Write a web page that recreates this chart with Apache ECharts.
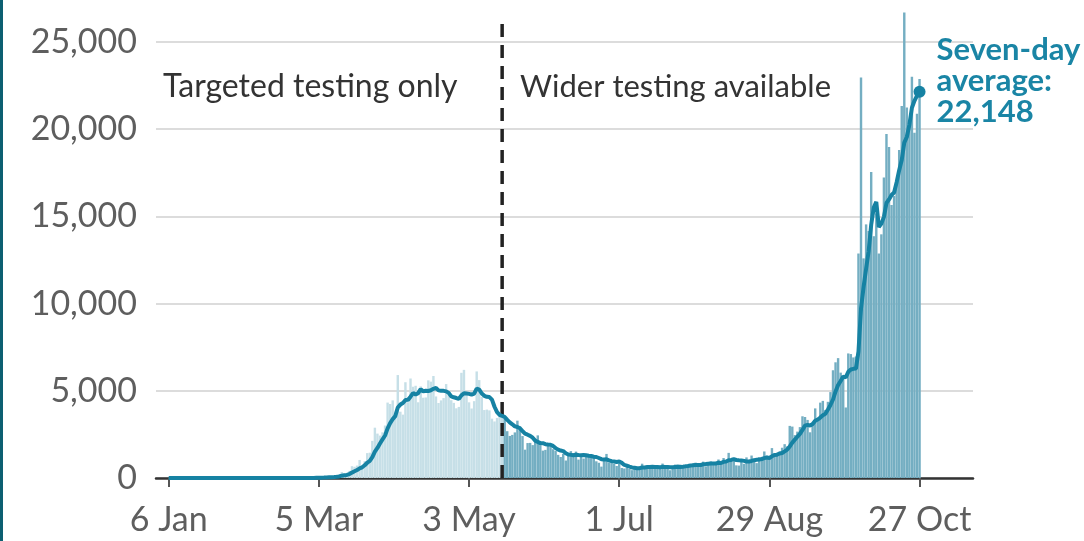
<!DOCTYPE html>
<html>
<head>
<meta charset="utf-8">
<script src="https://cdn.jsdelivr.net/npm/echarts@6/dist/echarts.min.js"></script>
<style>
  html, body { margin: 0; padding: 0; background: #fff; }
  #chart { position: absolute; left: 0; top: 0; width: 1084px; height: 541px; }
  #edge { position: absolute; left: 0; top: 0; width: 3px; height: 541px; background: #0c5f71; }
</style>
</head>
<body>
<div id="chart"></div>
<div id="edge"></div>
<script>
// daily reported cases, 6 Jan - 27 Oct 2020
const casesJan = [0,0,0,0,0,0,0,0,0,0,0,0,0,0,0,0,0,0,0,0,0,0,0,0,0,2]
const casesFeb = [0,0,0,0,0,1,0,0,0,4,1,0,0,0,0,0,0,0,0,0,0,0,4,0,0,0,2,6,3]
const casesMar = [13,4,11,34,30,48,43,67,48,52,83,134,208,342,251,152,407,676,643,714,1035,665,967,1427,1452,2129,2885,2546,2433,2619,3009]
const casesApr = [4324,4244,4450,3735,5903,3802,3634,5491,4344,5706,5233,5288,4342,5252,4603,4617,5599,5525,5850,4676,4301,4451,4583,5386,4913,4463,4309,3996,4076,6032]
const casesMay = [6201,4806,4339,3985,4406,6111,5614,4649,3896,3923,3877,3403,3242,3446,3560,3450,3534,2684,2412,2472,2615,3287,2959,2405,1625,2004,2013,1887,2095,2445,1936]
const casesJun = [1570,1613,1871,1805,1650,1557,1326,1205,1387,1003,1266,1541,1425,1514,1056,1279,1115,1218,1346,1295,1221,958,874,653,1118,1380,890,901,815,689]
const casesJul = [829,576,544,624,516,450,581,630,600,820,650,650,530,598,538,642,687,827,580,560,445,560,769,768,767,685,685,581,763,846,880]
const casesAug = [744,742,938,670,892,950,871,758,1062,816,1148,1009,1441,1012,1077,726,713,1089,812,1182,1033,1288,1041,853,1184,1048,1522,1276,1108,1715,1406]
const casesSep = [1295,1508,1735,1940,1813,2988,2948,2460,2659,2919,3539,3497,3330,2621,3105,3991,3395,4322,4422,3899,4368,4926,6178,6634,6874,6042,5693,4044,7143,7108]
const casesOct = [6914,6968,12872,22961,12594,14542,14162,17540,13864,15166,12872,13972,17234,19724,18980,15650,16171,16982,18804,21331,26688,21242,20530,23012,19790,20890,22885]

// seven-day average, same days
const avgJan = [0,0,0,0,0,0,0,0,0,0,0,0,0,0,0,0,0,0,0,0,0,0,0,0,0,0]
const avgFeb = [0,0,0,0,0,0,0,0,0,1,1,1,1,1,1,1,0,0,0,0,0,0,1,1,1,1,1,2,2]
const avgMar = [3,4,6,10,14,20,26,34,40,46,53,68,91,133,160,175,225,310,383,455,554,613,730,875,986,1198,1509,1724,1977,2213,2439]
const avgApr = [2849,3151,3375,3545,4041,4210,4299,4466,4480,4659,4873,4785,4863,5094,4967,5006,4991,5032,5113,5160,5024,5003,4998,4967,4880,4682,4629,4586,4532,4739]
const avgMay = [4856,4840,4823,4776,4835,5126,5066,4844,4714,4655,4639,4496,4086,3777,3621,3557,3502,3331,3190,3080,2961,2922,2852,2691,2539,2481,2415,2311,2141,2068,2001]
const avgJun = [1993,1937,1917,1905,1841,1715,1627,1575,1543,1419,1342,1326,1308,1334,1313,1298,1314,1307,1279,1260,1219,1205,1147,1081,1066,1071,1013,968,947,921]
const avgJul = [946,869,749,711,656,604,589,560,564,603,607,626,637,640,627,633,614,639,629,633,611,614,633,644,636,651,668,688,717,728,744]
const avgAug = [741,749,785,798,816,831,830,832,877,860,928,945,1015,1035,1081,1033,1018,1010,981,944,947,978,1023,1043,1056,1090,1138,1173,1147,1244,1323]
const avgSep = [1339,1404,1435,1530,1630,1812,2032,2199,2363,2532,2761,3001,3050,3004,3096,3286,3354,3466,3598,3679,3929,4189,4501,4964,5329,5560,5816,5770,6087,6220]
const avgOct = [6260,6273,7249,9716,10937,11994,13002,14520,15505,15833,14391,14588,14973,15767,15973,16228,16372,16959,17649,18235,19229,19553,20250,21227,21628,21926,22148]

const tickLabels = ['6 Jan', '5 Mar', '3 May', '1 Jul', '29 Aug', '27 Oct']
const wideTestingDay = '16 May'

// axis runs 1 Jan - 17 Nov, data starts 6 Jan
const months = ['Jan','Feb','Mar','Apr','May','Jun','Jul','Aug','Sep','Oct','Nov','Dec']
const days = []
for (let i = 0; i < 322; i++) {
  const d = new Date(Date.UTC(2020, 0, 1 + i))
  days.push(d.getUTCDate() + ' ' + months[d.getUTCMonth()])
}
const lead = days.indexOf('6 Jan')
const pad = new Array(lead).fill(null)

const daily = pad.concat(casesJan, casesFeb, casesMar, casesApr, casesMay, casesJun, casesJul, casesAug, casesSep, casesOct)
const average = pad.concat(avgJan, avgFeb, avgMar, avgApr, avgMay, avgJun, avgJul, avgAug, avgSep, avgOct)
const lastIdx = average.length - 1
const lastAvg = average[lastIdx]
const splitIdx = days.indexOf(wideTestingDay)

const fmt = v => v.toLocaleString('en-GB')
const showTick = (i, v) => tickLabels.indexOf(v) !== -1

const chart = echarts.init(document.getElementById('chart'))
chart.setOption({
  animation: false,
  grid: { left: 156, right: 111, top: 42, bottom: 63 },
  xAxis: {
    type: 'category',
    data: days,
    boundaryGap: false,
    axisLine: { lineStyle: { color: '#333', width: 2.5 } },
    axisTick: { interval: showTick, length: 9, lineStyle: { color: '#555', width: 2 } },
    axisLabel: {
      interval: showTick,
      margin: 25,
      color: '#5e5e5e',
      fontFamily: 'Lato',
      fontSize: 34
    },
    splitLine: { show: false }
  },
  yAxis: {
    type: 'value',
    min: 0,
    max: 25000,
    interval: 5000,
    axisLine: { show: false },
    axisTick: { show: false },
    axisLabel: {
      formatter: fmt,
      margin: 19,
      color: '#5e5e5e',
      fontFamily: 'Lato',
      fontSize: 34
    },
    splitLine: { lineStyle: { color: '#dcdcdc', width: 2 } }
  },
  graphic: [
    {
      type: 'text', x: 163, y: 87,
      style: { text: 'Targeted testing only', fill: '#333', font: '32px Lato', verticalAlign: 'middle', textVerticalAlign: 'middle' }
    },
    {
      type: 'text', x: 520, y: 87,
      style: { text: 'Wider testing available', fill: '#333', font: '31px Lato', verticalAlign: 'middle', textVerticalAlign: 'middle' }
    }
  ],
  series: [
    {
      name: 'cases',
      type: 'bar',
      data: daily,
      clip: false,
      barCategoryGap: '5%',
      itemStyle: {
        color: p => p.dataIndex > splitIdx ? '#74aec2' : '#c6dfe7'
      }
    },
    {
      name: 'divider',
      type: 'line',
      data: [[splitIdx, 0], [splitIdx, 26300]],
      clip: false,
      silent: true,
      showSymbol: false,
      lineStyle: { color: '#222', width: 3.5, type: [13, 8] },
      z: 2
    },
    {
      name: 'average',
      type: 'line',
      data: average,
      showSymbol: false,
      lineStyle: { color: '#1682a3', width: 4 },
      z: 3
    },
    {
      name: 'latest',
      type: 'scatter',
      data: [[lastIdx, lastAvg]],
      symbolSize: 12,
      itemStyle: { color: '#1682a3', opacity: 1 },
      z: 4,
      label: {
        show: true,
        position: 'right',
        distance: 11,
        offset: [0, -11],
        formatter: () => 'Seven-day\naverage:\n' + fmt(lastAvg),
        color: '#1a85a5',
        fontFamily: 'Lato',
        fontWeight: 'bold',
        fontSize: 31,
        lineHeight: 31
      }
    }
  ]
})
</script>
</body>
</html>
